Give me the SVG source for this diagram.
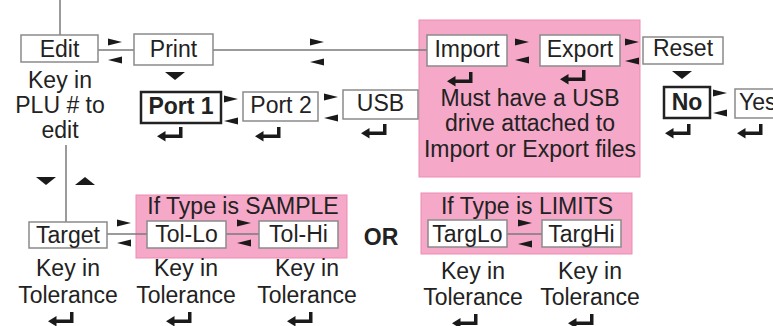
<svg xmlns="http://www.w3.org/2000/svg" width="773" height="326" viewBox="0 0 773 326">
<style>
text{font-family:"Liberation Sans",Arial,sans-serif;font-size:23px;fill:#222;text-anchor:middle}
.b{font-weight:bold}
.box{fill:#fff;stroke:#8a8a8a;stroke-width:1.5}
.bold{fill:#fff;stroke:#222;stroke-width:2.5}
.pink{fill:#f5a8c8;stroke:#ec8cb2;stroke-width:1}
.ln{stroke:#7a7a7a;stroke-width:1.5;fill:none}
</style>
<defs>
<path id="ret" d="M22,0 H25.5 V11 H8.5 V14.5 L0,9.25 L8.5,4 V7.5 H22 Z" fill="#1a1a1a"/>
<path id="rt" d="M0,-3.5 L14,0 L0,3.5 Z" fill="#1a1a1a"/>
<path id="lt" d="M14,-3.5 L0,0 L14,3.5 Z" fill="#1a1a1a"/>
<path id="dn" d="M0,0 H20 L10,8 Z" fill="#1a1a1a"/>
<path id="up" d="M0,8 H20 L10,0 Z" fill="#1a1a1a"/>
</defs>

<rect id="usb-note-bg" class="pink" x="419" y="20" width="221" height="157"/>
<rect id="sample-bg" class="pink" x="136" y="195" width="211" height="63"/>
<rect id="limits-bg" class="pink" x="421" y="193" width="211" height="61"/>

<g id="connectors">
<line class="ln" x1="60" y1="0" x2="60" y2="35"/>
<line class="ln" x1="98" y1="50" x2="134" y2="50"/>
<line class="ln" x1="213" y1="50" x2="427" y2="50"/>
<line class="ln" x1="66" y1="145" x2="66" y2="222"/>
<line class="ln" x1="107" y1="234" x2="147" y2="234"/>
<line class="ln" x1="226" y1="234" x2="259" y2="234"/>
<line class="ln" x1="507" y1="234" x2="542" y2="234"/>
<use href="#rt" x="108" y="42"/><use href="#lt" x="108" y="60"/>
<use href="#rt" x="310" y="42"/><use href="#lt" x="310" y="62"/>
<use href="#rt" x="515" y="42"/><use href="#lt" x="515" y="60"/>
<use href="#rt" x="625" y="42"/><use href="#lt" x="625" y="61"/>
<use href="#rt" x="224" y="99"/><use href="#lt" x="224" y="121"/>
<use href="#rt" x="324" y="97"/><use href="#lt" x="324" y="118"/>
<use href="#rt" x="713" y="93"/><use href="#lt" x="713" y="113"/>
<use href="#rt" x="117" y="223"/><use href="#lt" x="117" y="243"/>
<use href="#rt" x="237" y="223"/><use href="#lt" x="237" y="243"/>
<use href="#rt" x="518" y="223"/><use href="#lt" x="518" y="244"/>
<use href="#dn" x="165" y="72"/>
<use href="#dn" x="672" y="71"/>
<use href="#dn" x="36" y="177"/>
<use href="#up" x="75" y="177"/>
</g>

<g id="edit">
<rect class="box" x="21" y="35" width="77" height="27"/>
<text x="59.5" y="57">Edit</text>
<text x="60" y="88">Key in</text>
<text x="60" y="113">PLU # to</text>
<text x="60" y="138">edit</text>
</g>
<g id="print">
<rect class="box" x="134" y="34" width="79" height="31"/>
<text x="173.5" y="57">Print</text>
</g>
<g id="port1">
<rect class="bold" x="141" y="92" width="80" height="31"/>
<text class="b" x="181" y="114">Port 1</text>
<use href="#ret" x="157" y="127"/>
</g>
<g id="port2">
<rect class="box" x="243" y="92" width="75" height="29"/>
<text x="281" y="113">Port 2</text>
<use href="#ret" x="255" y="127"/>
</g>
<g id="usb">
<rect class="box" x="343" y="90" width="75" height="29"/>
<text x="380.5" y="111">USB</text>
<use href="#ret" x="361" y="124"/>
</g>
<g id="import">
<rect class="box" x="427" y="35" width="80" height="31"/>
<text x="467" y="57">Import</text>
<use href="#ret" x="447" y="72"/>
</g>
<g id="export">
<rect class="box" x="540" y="35" width="80" height="31"/>
<text x="580" y="57">Export</text>
<use href="#ret" x="560" y="70"/>
</g>
<g id="usb-note">
<text x="530" y="106">Must have a USB</text>
<text x="530" y="131">drive attached to</text>
<text x="530" y="157">Import or Export files</text>
</g>
<g id="reset">
<rect class="box" x="643" y="37" width="80" height="27"/>
<text x="683" y="56">Reset</text>
</g>
<g id="no">
<rect class="bold" x="664" y="87" width="46" height="31"/>
<text class="b" x="687" y="110">No</text>
<use href="#ret" x="665" y="124"/>
</g>
<g id="yes">
<rect class="box" x="735" y="89" width="60" height="29"/>
<text x="739" y="110" style="text-anchor:start">Yes</text>
<use href="#ret" x="737" y="124"/>
</g>

<g id="target">
<rect class="box" x="29" y="222" width="78" height="26"/>
<text x="68" y="243">Target</text>
<text x="68" y="276">Key in</text>
<text x="68" y="303">Tolerance</text>
<use href="#ret" x="48" y="312"/>
</g>
<g id="sample-label">
<text x="243" y="214">If Type is SAMPLE</text>
</g>
<g id="tol-lo">
<rect class="box" x="147" y="221" width="79" height="27"/>
<text x="186.5" y="242">Tol-Lo</text>
<text x="186" y="276">Key in</text>
<text x="186" y="303">Tolerance</text>
<use href="#ret" x="166" y="312"/>
</g>
<g id="tol-hi">
<rect class="box" x="259" y="221" width="79" height="27"/>
<text x="298.5" y="242">Tol-Hi</text>
<text x="307" y="276">Key in</text>
<text x="307" y="303">Tolerance</text>
<use href="#ret" x="287" y="312"/>
</g>
<g id="or">
<text class="b" x="381" y="245">OR</text>
</g>
<g id="limits-label">
<text x="527" y="214">If Type is LIMITS</text>
</g>
<g id="targlo">
<rect class="box" x="428" y="220" width="79" height="27"/>
<text x="467.5" y="242">TargLo</text>
<text x="473" y="279">Key in</text>
<text x="473" y="305">Tolerance</text>
<use href="#ret" x="452" y="314"/>
</g>
<g id="targhi">
<rect class="box" x="542" y="220" width="79" height="27"/>
<text x="581.5" y="242">TargHi</text>
<text x="590" y="279">Key in</text>
<text x="590" y="305">Tolerance</text>
<use href="#ret" x="568" y="314"/>
</g>
</svg>
